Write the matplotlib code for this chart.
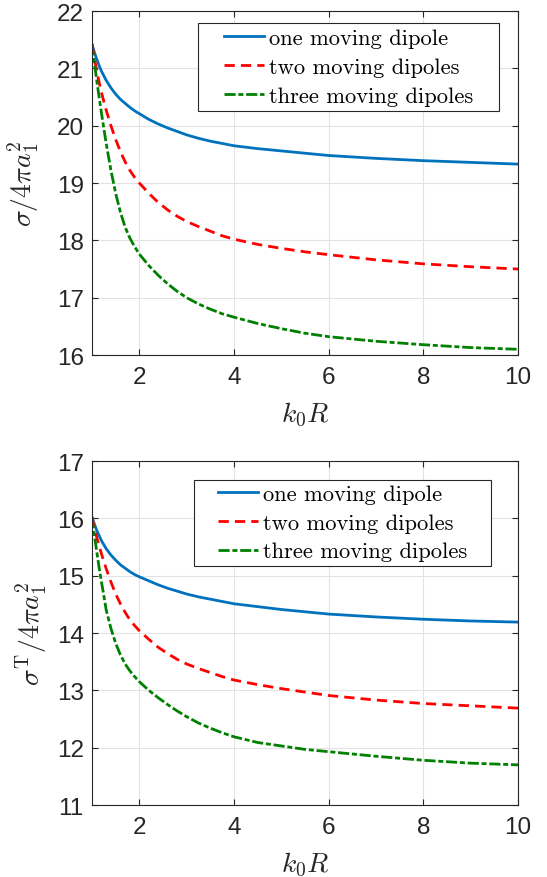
import matplotlib
matplotlib.use("Agg")
import matplotlib.pyplot as plt
from matplotlib.patches import Rectangle

plt.rcParams['mathtext.fontset'] = 'cm'
plt.rcParams['font.family'] = ['Liberation Sans', 'DejaVu Sans']

# k0R sample points
k0R = [1, 1.05, 1.1, 1.15, 1.2, 1.25, 1.3, 1.4, 1.5, 1.6, 1.7, 1.8, 1.9, 2,
       2.2, 2.4, 2.6, 2.8, 3, 3.25, 3.5, 3.75, 4, 4.5, 5, 5.5, 6, 7, 8, 9, 10]

# top panel: sigma / 4 pi a1^2
top_one = [21.42, 21.28, 21.16, 21.05, 20.95, 20.87, 20.79, 20.66, 20.55, 20.46,
           20.39, 20.32, 20.26, 20.21, 20.11, 20.03, 19.96, 19.90, 19.84, 19.78,
           19.73, 19.69, 19.65, 19.60, 19.56, 19.52, 19.48, 19.43, 19.39, 19.36, 19.33]
top_two = [21.42, 21.18, 20.96, 20.76, 20.58, 20.42, 20.27, 20.00, 19.76, 19.55,
           19.37, 19.22, 19.10, 19.00, 18.82, 18.66, 18.53, 18.42, 18.33, 18.24,
           18.16, 18.08, 18.02, 17.93, 17.86, 17.80, 17.75, 17.66, 17.59, 17.54, 17.50]
top_three = [21.42, 21.10, 20.79, 20.50, 20.22, 19.95, 19.69, 19.22, 18.82, 18.49,
             18.23, 18.04, 17.89, 17.76, 17.56, 17.39, 17.24, 17.11, 17.00, 16.89,
             16.80, 16.72, 16.66, 16.55, 16.46, 16.38, 16.32, 16.24, 16.18, 16.13, 16.10]

# bottom panel: sigma^T / 4 pi a1^2
bot_one = [16.02, 15.90, 15.79, 15.70, 15.61, 15.54, 15.47, 15.36, 15.27, 15.19,
           15.13, 15.07, 15.02, 14.98, 14.91, 14.84, 14.78, 14.73, 14.68, 14.63,
           14.59, 14.55, 14.51, 14.46, 14.41, 14.37, 14.33, 14.28, 14.24, 14.21, 14.19]
bot_two = [16.02, 15.84, 15.67, 15.52, 15.38, 15.25, 15.12, 14.89, 14.68, 14.51,
           14.36, 14.23, 14.13, 14.04, 13.89, 13.75, 13.64, 13.54, 13.46, 13.38,
           13.31, 13.24, 13.18, 13.10, 13.03, 12.97, 12.91, 12.83, 12.77, 12.73, 12.69]
bot_three = [16.02, 15.71, 15.42, 15.14, 14.89, 14.65, 14.40, 14.08, 13.82, 13.62,
             13.46, 13.34, 13.24, 13.15, 13.00, 12.87, 12.75, 12.64, 12.54, 12.43,
             12.34, 12.26, 12.19, 12.09, 12.03, 11.97, 11.93, 11.85, 11.78, 11.73, 11.70]

labels = ['one moving dipole', 'two moving dipoles', 'three moving dipoles']
ylabels = [r'$\sigma/4\pi a_1^2$', r'$\sigma^{\rm T}/4\pi a_1^2$']
yticks_top = [16, 17, 18, 19, 20, 21, 22]
yticks_bot = [11, 12, 13, 14, 15, 16, 17]
xticks = [2, 4, 6, 8, 10]

dark = '#262626'

fig = plt.figure(figsize=(5.47, 8.78), dpi=100)
ax1 = fig.add_axes([0.1682, 0.5945, 0.7788, 0.3918])
ax2 = fig.add_axes([0.1682, 0.0820, 0.7788, 0.3918])


def draw(ax, one, two, three, yticks, ylabel, ylab_x, box):
    ax.plot(k0R, one, color='#0072BD', lw=2, label=labels[0])
    ax.plot(k0R, two, color='#FF0000', lw=2, dashes=(3.7, 2.2), label=labels[1])
    ax.plot(k0R, three, color='#008000', lw=2, dashes=(4, 1, 1.8, 1), label=labels[2])

    ax.set_xlim(1, 10)
    ax.set_ylim(yticks[0], yticks[-1])
    ax.set_xticks(xticks)
    ax.set_yticks(yticks)
    ax.grid(True, color='#e3e3e3', lw=0.8)
    ax.set_axisbelow(True)
    ax.tick_params(direction='in', length=4, width=0.8, color=dark,
                   top=True, right=True, labelsize=17.5, labelcolor=dark)
    ax.tick_params(axis='x', pad=8)
    ax.tick_params(axis='y', pad=6)
    for s in ax.spines.values():
        s.set_color(dark)
        s.set_linewidth(0.8)

    ax.set_xlabel(r'$k_0R$', fontsize=20, color=dark)
    ax.set_ylabel(ylabel, fontsize=20, color=dark)
    ax.xaxis.set_label_coords(0.5, -0.13)
    ax.yaxis.set_label_coords(ylab_x, 0.5)

    # legend box drawn by hand (wide side padding as in the original)
    x0, y0, x1, y1 = box
    ax.add_patch(Rectangle((x0, y0), x1 - x0, y1 - y0, transform=ax.transAxes,
                           facecolor='white', edgecolor=dark, lw=0.8, zorder=4))
    ax.legend(loc='center', bbox_to_anchor=((x0 + x1) / 2, (y0 + y1) / 2),
              borderaxespad=0, borderpad=0, frameon=False,
              prop={'family': 'cmr10', 'size': 16.2}, handlelength=1.8,
              handletextpad=0.2, labelspacing=0.4)


draw(ax1, top_one, top_two, top_three, yticks_top, ylabels[0], -0.12,
     (0.2488, 0.7093, 0.9554, 0.9651))
draw(ax2, bot_one, bot_two, bot_three, yticks_bot, ylabels[1], -0.10,
     (0.2394, 0.6948, 0.9366, 0.9462))

fig.savefig('out.png', dpi=100)
